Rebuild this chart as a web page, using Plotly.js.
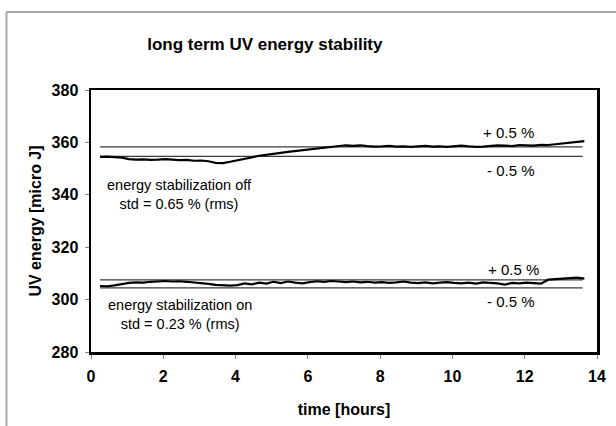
<!DOCTYPE html>
<html>
<head>
<meta charset="utf-8">
<script src="https://cdn.plot.ly/plotly-3.0.1.min.js"></script>
<style>
html,body{margin:0;padding:0;background:#fff;}
#chart{width:616px;height:426px;}
</style>
</head>
<body>
<div id="chart"></div>
<script>
// time axis (hours)
const timeHours = [0.25,0.45,0.65,0.85,1.05,1.25,1.45,1.65,1.85,2.05,2.25,2.45,2.65,2.85,3.05,3.25,3.45,3.65,3.85,4.05,
  4.25,4.45,4.65,4.85,5.05,5.25,5.45,5.65,5.85,6.05,6.25,6.45,6.65,6.85,7.05,7.25,7.45,7.65,7.85,8.05,
  8.25,8.45,8.65,8.85,9.05,9.25,9.45,9.65,9.85,10.05,10.25,10.45,10.65,10.85,11.05,11.25,11.45,11.65,11.85,12.05,
  12.25,12.45,12.65,12.85,13.05,13.25,13.45,13.65];

// UV energy, stabilization off (micro J)
const energyOff = [354.5,354.6,354.4,354.2,353.6,353.4,353.5,353.3,353.4,353.6,353.4,353.2,353.3,353.0,353.1,352.8,352.2,352.1,352.6,353.1,
  353.8,354.3,354.9,355.2,355.7,356.0,356.4,356.7,356.9,357.3,357.6,357.9,358.2,358.5,358.9,358.7,358.9,358.6,358.4,358.5,
  358.7,358.4,358.5,358.3,358.6,358.7,358.4,358.5,358.3,358.6,358.8,358.5,358.3,358.4,358.7,358.9,358.8,358.6,359.0,358.9,
  358.8,359.1,359.0,359.3,359.6,359.8,360.2,360.5];

// UV energy, stabilization on (micro J)
const energyOn = [305.2,305.1,305.4,305.9,306.4,306.6,306.5,306.8,307.0,307.1,306.9,307.0,306.8,306.6,306.4,306.0,305.6,305.4,305.3,305.5,
  306.2,305.8,306.5,306.1,306.8,306.3,306.9,306.5,306.2,306.7,307.0,306.8,307.1,306.9,306.7,306.9,306.6,306.8,306.5,306.7,
  306.4,306.6,306.9,306.5,306.3,306.6,306.2,306.5,306.7,306.4,306.2,306.5,306.1,306.6,306.4,306.2,305.7,306.4,306.2,306.5,
  306.3,306.1,307.6,307.8,307.9,308.2,308.4,308.0];

// +/- 0.5 % reference bands
const bandTimes = [0.25, 13.6];
const offPlus = [358.3, 358.3];
const offMinus = [354.7, 354.7];
const onPlus = [307.5, 307.5];
const onMinus = [304.5, 304.5];

const xTicks = [0,2,4,6,8,10,12,14];
const yTicks = [280,300,320,340,360,380];

const FONT = 'Liberation Sans, Arial, sans-serif';

const refLine = {color:'#3a3a3a', width:1.3};
const dataLine = {color:'#000000', width:2.2};

const traces = [
  {x:bandTimes, y:offPlus, mode:'lines', line:refLine, hoverinfo:'skip', showlegend:false},
  {x:bandTimes, y:offMinus, mode:'lines', line:refLine, hoverinfo:'skip', showlegend:false},
  {x:bandTimes, y:onPlus, mode:'lines', line:refLine, hoverinfo:'skip', showlegend:false},
  {x:bandTimes, y:onMinus, mode:'lines', line:refLine, hoverinfo:'skip', showlegend:false},
  {x:timeHours, y:energyOff, mode:'lines', line:dataLine, name:'stabilization off', showlegend:false},
  {x:timeHours, y:energyOn, mode:'lines', line:dataLine, name:'stabilization on', showlegend:false}
];

function ann(x, y, text, size){
  return {x:x, y:y, xref:'x', yref:'y', text:text, showarrow:false,
    font:{family:FONT, size:size, color:'#000'}, xanchor:'center', yanchor:'middle', align:'center'};
}

const layout = {
  width:616, height:426,
  margin:{l:91, r:19, t:90, b:74},
  paper_bgcolor:'#ffffff', plot_bgcolor:'#ffffff',
  font:{family:FONT, color:'#000'},
  showlegend:false,
  title:{text:'<b>long term UV energy stability</b>', font:{family:FONT, size:17, color:'#000'},
    xref:'container', yref:'container', x:0.430, y:0.897, xanchor:'center', yanchor:'middle'},
  xaxis:{range:[0,14], tickvals:xTicks, ticktext:xTicks.map(v=>'<b>'+v+'</b>'),
    ticks:'outside', ticklen:4, tickwidth:1, tickcolor:'#808080', ticklabelstandoff:4,
    showline:true, linecolor:'#000', linewidth:2.5, mirror:true, showgrid:false, zeroline:false,
    tickfont:{family:FONT, size:16, color:'#000'},
    title:{text:'<b>time [hours]</b>', font:{family:FONT, size:16, color:'#000'}, standoff:20}},
  yaxis:{range:[280,380], tickvals:yTicks, ticktext:yTicks.map(v=>'<b>'+v+'</b>'),
    ticks:'outside', ticklen:4, tickwidth:1, tickcolor:'#808080', ticklabelstandoff:3,
    showline:true, linecolor:'#000', linewidth:2.5, mirror:true, showgrid:false, zeroline:false,
    tickfont:{family:FONT, size:16, color:'#000'},
    title:{text:'<b>UV energy [micro J]</b>', font:{family:FONT, size:16, color:'#000'}, standoff:6}},
  annotations:[
    ann(11.54, 363.6, '+ 0.5 %', 15),
    ann(11.62, 349.1, '- 0.5 %', 15),
    ann(11.70, 311.4, '+ 0.5 %', 15),
    ann(11.62, 299.3, '- 0.5 %', 15),
    ann(2.46, 340.1, 'energy stabilization off<br>std = 0.65 % (rms)', 14.5),
    ann(2.46, 294.3, 'energy stabilization on<br>std = 0.23 % (rms)', 14.5)
  ],
  shapes:[
    {type:'line', xref:'paper', yref:'paper', x0:-0.167, x1:-0.167, y0:-0.30, y1:1.2977, line:{color:'#a8a8a8', width:2}},
    {type:'line', xref:'paper', yref:'paper', x0:-0.167, x1:1.06, y0:1.2977, y1:1.2977, line:{color:'#a8a8a8', width:2}}
  ]
};

Plotly.newPlot('chart', traces, layout, {displayModeBar:false, staticPlot:true});
</script>
</body>
</html>
